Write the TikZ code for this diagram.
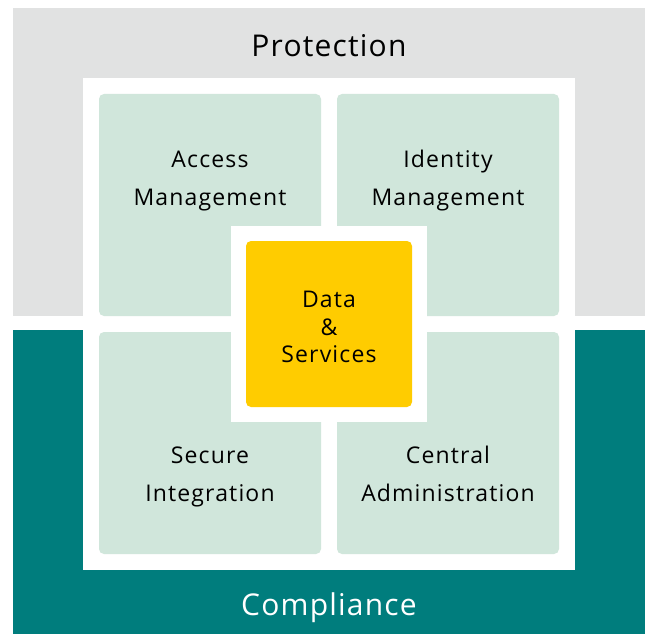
\documentclass[tikz,border=0pt]{standalone}
\usepackage{fontspec}
\setmainfont{Open Sans}
\newfontfamily\tilefont[LetterSpace=5]{Open Sans}
\newfontfamily\bigfont[LetterSpace=4]{Open Sans}
\definecolor{pgray}{HTML}{E1E2E2}
\definecolor{cteal}{HTML}{007D7D}
\definecolor{mgreen}{HTML}{D0E6DB}
\definecolor{dyellow}{HTML}{FFCC00}
\begin{document}
\begin{tikzpicture}[x=1pt,y=-1pt,
  tile/.style={fill=mgreen,draw=none,rounded corners=5pt},
  tiletext/.style={anchor=base,font=\tilefont\fontsize{23}{26}\selectfont,text=black,inner sep=0pt},
  bigtext/.style={anchor=base,font=\bigfont\fontsize{30}{34}\selectfont,inner sep=0pt}]
\useasboundingbox (0,0) rectangle (646,634);
\fill[white] (0,0) rectangle (646,634);
\fill[pgray] (13,8) rectangle (645,316);
\fill[cteal] (13,330) rectangle (645,634);
\fill[white] (83,78) rectangle (575,570);
\fill[tile] (99,94) rectangle (321,316);
\fill[tile] (337,94) rectangle (559,316);
\fill[tile] (99,332) rectangle (321,554);
\fill[tile] (337,332) rectangle (559,554);
\fill[white] (231,226) rectangle (427,422);
\fill[dyellow,rounded corners=5pt] (246,241) rectangle (412,407);
\node[bigtext] (prot) at (329,57) {Protection};
\node[bigtext,text=white] (comp) at (329,615) {Compliance};
\node[tiletext] (acc1) at (210,167) {Access};
\node[tiletext] (acc2) at (210,205) {Management};
\node[tiletext] (idm1) at (448,167) {Identity};
\node[tiletext] (idm2) at (448,205) {Management};
\node[tiletext] (sec1) at (210,463) {Secure};
\node[tiletext] (sec2) at (210,501) {Integration};
\node[tiletext] (cen1) at (448,463) {Central};
\node[tiletext] (cen2) at (448,501) {Administration};
\node[tiletext] (dat1) at (329,307) {Data};
\node[tiletext] (dat2) at (329,335) {\&};
\node[tiletext] (dat3) at (329,362) {Services};
\end{tikzpicture}
\end{document}
